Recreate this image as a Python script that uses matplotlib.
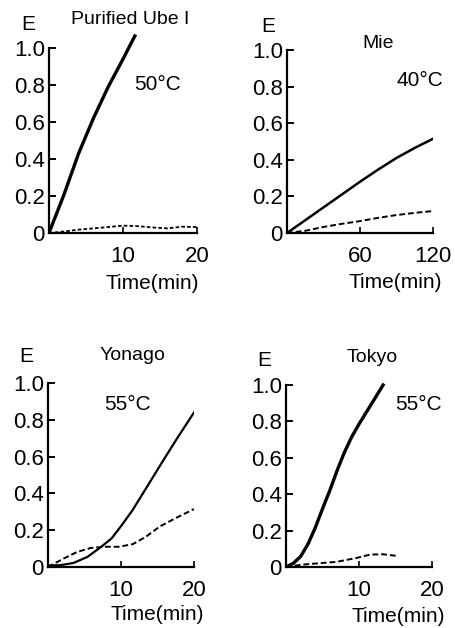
import matplotlib.pyplot as plt

plt.rcParams['font.family'] = ['Liberation Sans', 'DejaVu Sans']

# Purified Ube I, 50 C
ube_t = [0, 2, 4, 6, 8, 10, 11.6]
ube_solid = [0, 0.205, 0.43, 0.62, 0.79, 0.94, 1.065]
ube_dash_t = [0, 2, 4, 6, 8, 10, 12, 14, 16, 18, 20]
ube_dash = [0, 0.008, 0.018, 0.025, 0.032, 0.04, 0.037, 0.03, 0.025, 0.034, 0.032]

# Mie, 40 C
mie_t = [0, 15, 30, 45, 60, 75, 90, 105, 120]
mie_solid = [0, 0.07, 0.14, 0.21, 0.28, 0.347, 0.41, 0.465, 0.515]
mie_dash = [0, 0.012, 0.033, 0.05, 0.065, 0.083, 0.098, 0.11, 0.12]

# Yonago, 55 C
yon_t = [0, 1.7, 3.5, 5.4, 7.3, 8.7, 10.1, 11.6, 13, 14.4, 15.8, 17.7, 19.1, 20]
yon_solid = [0.008, 0.01, 0.022, 0.055, 0.11, 0.155, 0.227, 0.31, 0.4, 0.49, 0.58,
             0.7, 0.785, 0.84]
yon_dash_t = [0, 2.1, 4, 5.9, 7.8, 9.7, 11.6, 13.4, 15.3, 17.7, 20]
yon_dash = [0, 0.045, 0.082, 0.104, 0.11, 0.11, 0.124, 0.164, 0.22, 0.27, 0.315]

# Tokyo, 55 C
tok_t = [0, 1, 2, 3, 4, 5, 6, 7, 8, 9, 10, 11, 12, 13.3]
tok_solid = [0, 0.02, 0.058, 0.125, 0.215, 0.32, 0.42, 0.53, 0.63, 0.715, 0.785,
             0.85, 0.915, 1.0]
tok_dash_t = [0, 2, 3.7, 6.9, 9.7, 11.5, 13.3, 15.4]
tok_dash = [0, 0.012, 0.018, 0.028, 0.05, 0.068, 0.07, 0.06]

y_ticks = [0, 0.2, 0.4, 0.6, 0.8, 1.0]
y_labels = ['0', '0.2', '0.4', '0.6', '0.8', '1.0']

W, H = 455, 628
fig = plt.figure(figsize=(W / 100, H / 100), dpi=100)


def make_axes(left, right, zero_y, unit, xmax, xticks):
    # pixel coords -> figure fraction
    ax = fig.add_axes([left / W, (H - zero_y) / H, (right - left) / W, 1.1 * unit / H])
    ax.set_xlim(0, xmax)
    ax.set_ylim(0, 1.1)
    for s in ['top', 'right']:
        ax.spines[s].set_visible(False)
    ax.spines['left'].set_bounds(0, 1.0)
    ax.spines['bottom'].set_bounds(0, xmax)
    for s in ['left', 'bottom']:
        ax.spines[s].set_linewidth(1.6)
    ax.set_yticks(y_ticks)
    ax.set_yticklabels(y_labels)
    ax.set_xticks(xticks)
    ax.tick_params(axis='y', direction='in', length=5, width=1.4, pad=3, labelsize=16)
    ax.tick_params(axis='x', direction='in', length=4, width=1.2, pad=9, labelsize=16)
    ax.set_xlabel('Time(min)', fontsize=15)
    return ax


def ftext(x, y, s, size=15):
    fig.text(x / W, 1 - y / H, s, fontsize=size, ha='center', va='center')


dash = (0, (3, 1.5))

ax1 = make_axes(49, 197, 233, 185, 20, [10, 20])
ax1.plot(ube_t, ube_solid, color='black', lw=2.4)
ax1.plot(ube_dash_t, ube_dash, color='black', lw=1.3, linestyle=(0, (2, 1.2)))
ax1.xaxis.set_label_coords(0.70, -0.20)

ax2 = make_axes(287, 433, 233, 183, 120, [60, 120])
ax2.plot(mie_t, mie_solid, color='black', lw=1.8)
ax2.plot(mie_t, mie_dash, color='black', lw=1.4, linestyle=dash)
ax2.xaxis.set_label_coords(0.74, -0.20)

ax3 = make_axes(48, 194, 567, 184, 20, [10, 20])
ax3.plot(yon_t, yon_solid, color='black', lw=1.6)
ax3.plot(yon_dash_t, yon_dash, color='black', lw=1.4, linestyle=dash)
ax3.xaxis.set_label_coords(0.75, -0.19)

ax4 = make_axes(286, 432, 567, 182, 20, [10, 20])
ax4.plot(tok_t, tok_solid, color='black', lw=2.4)
ax4.plot(tok_dash_t, tok_dash, color='black', lw=1.4, linestyle=dash)
ax4.xaxis.set_label_coords(0.77, -0.20)

# E labels, titles, temperatures
ftext(28, 25, 'E')
ftext(268, 26, 'E')
ftext(26, 357, 'E')
ftext(264, 360, 'E')
ftext(130, 20, 'Purified Ube I', 14)
ftext(378, 43, 'Mie', 14)
ftext(132, 355, 'Yonago', 14)
ftext(372, 357, 'Tokyo', 14)
ftext(158, 85, '50°C')
ftext(420, 80, '40°C')
ftext(127, 405, '55°C')
ftext(418, 405, '55°C')

fig.savefig('out.png', dpi=100)
